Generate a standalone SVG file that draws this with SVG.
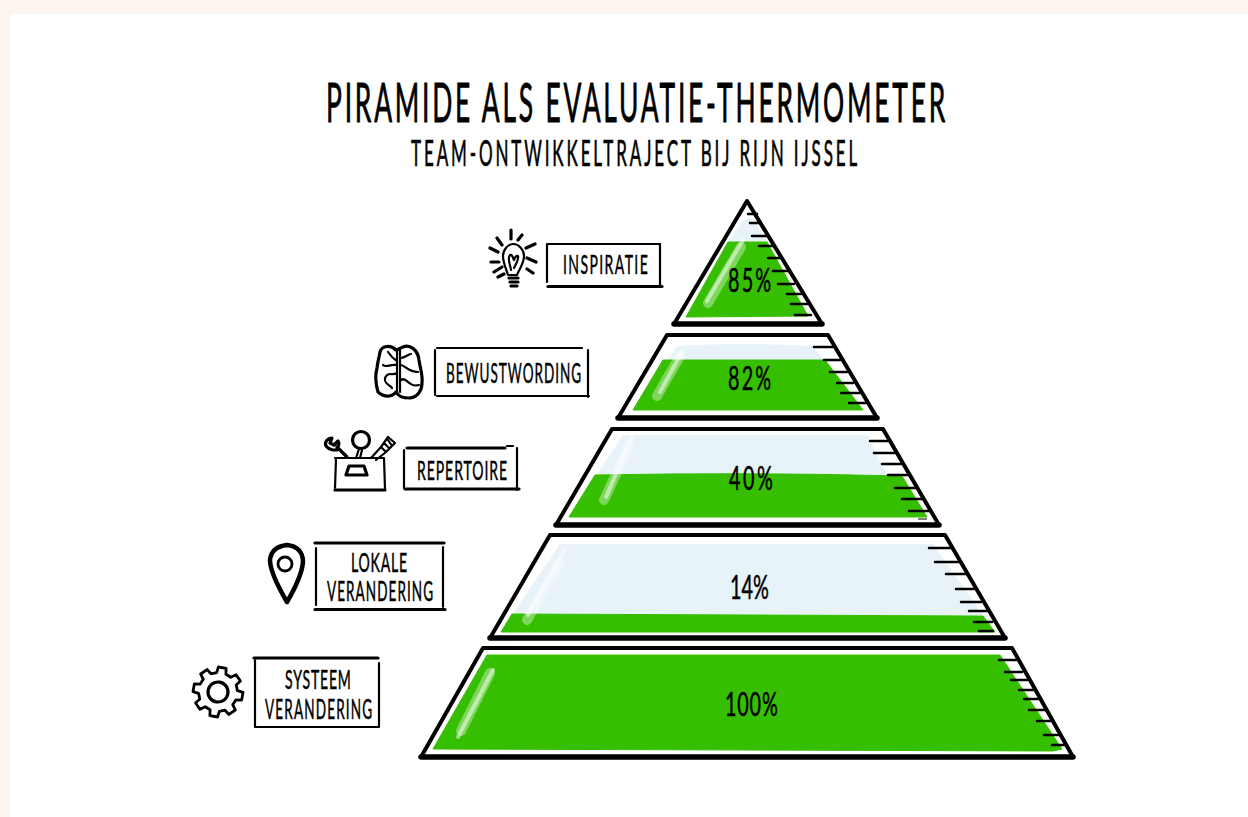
<svg xmlns="http://www.w3.org/2000/svg" width="1248" height="817" viewBox="0 0 1248 817">
<style>
text{font-family:Lato,"Liberation Sans",Arial,sans-serif;fill:#000;stroke:#000;stroke-width:.5;stroke-linejoin:round}
.t{font-size:26px}
.p{font-size:33px}
.tier{fill:#fff;stroke:#000;stroke-width:4;stroke-linejoin:round}
.base{stroke:#000;stroke-width:5.5;stroke-linecap:round;fill:none}
.g{fill:#36bf00;stroke:#36bf00;stroke-width:1;stroke-linejoin:round}
.l{fill:#e7f2f9}
.tk{stroke:#000;stroke-width:2.5;stroke-linecap:round;fill:none}
.h1{stroke:#fff;stroke-opacity:.36;stroke-width:10;stroke-linecap:round;fill:none}
.h2{stroke:#fff;stroke-opacity:.5;stroke-width:4;stroke-linecap:round;fill:none}
.b{stroke:#000;stroke-width:2.200;stroke-linecap:round;fill:none}
.bt{stroke:#000;stroke-width:3.200;stroke-linecap:round;fill:none}
.i{stroke:#000;stroke-width:2.200;stroke-linecap:round;stroke-linejoin:round;fill:none}
.ih{stroke:#000;stroke-width:3.200;stroke-linecap:round;stroke-linejoin:round;fill:none}
</style>
<rect width="1248" height="817" fill="#fcf4ef"/>
<rect x="10" y="14" width="1238" height="803" fill="#fff"/>
<g id="title">
<text transform="translate(326,122) scale(.48,1)" x="0" y="0" textLength="1290" style="font-size:55px;stroke-width:.9px">PIRAMIDE ALS EVALUATIE-THERMOMETER</text>
<text transform="translate(411,166) scale(.46,1)" x="0" y="0" textLength="970" style="font-size:37px;stroke-width:.7px">TEAM-ONTWIKKELTRAJECT BIJ RIJN IJSSEL</text>
</g>
<g id="tier-inspiratie">
<polygon class="tier" points="747,201 822,324 674,324"/>
<path class="l" d="M742,221Q750,216 755,220L766,243H728Z"/>
<path class="g" d="M728,242L767,242L808,316L686,317Z"/>
<path class="h1" d="M741,247L708,303"/>
<path class="h2" d="M743,240L707,301"/>
<path class="base" d="M674,324H822"/>
<path class="tk" d="M748,214H757M750,223H759M752,236H768M759,246H773M768,258H780M773,271H788M778,284H794M787,294H801M791,304H808M795,315H811"/>
<text class="p" transform="translate(728,292) scale(.6,1)" x="0" y="0" textLength="72">85%</text>
</g>
<g id="tier-bewustwording">
<polygon class="tier" points="667,335 828,335 877,418 618,418"/>
<path class="l" d="M668,360L677,346Q745,342 813,346L825,361Z"/>
<path class="g" d="M663,360H825L863,410L633,410Z"/>
<path class="h1" d="M680,356L657,396"/>
<path class="h2" d="M682,352L660,392"/>
<path class="base" d="M618,418H877"/>
<path class="tk" d="M814,347H833M824,360H840M830,372H847M837,383H853M841,393H860M849,403H866"/>
<text class="p" transform="translate(728,390) scale(.6,1)" x="0" y="0" textLength="72">82%</text>
</g>
<g id="tier-repertoire">
<polygon class="tier" points="612,429 883,429 939,525 556,525"/>
<path class="l" d="M596,476L623,435H868L875,452L888,476Z"/>
<path class="g" d="M595,475Q750,472 902,476L927,517L569,517Z"/>
<path class="h1" d="M630,444L604,500"/>
<path class="h2" d="M632,437L606,497"/>
<path class="base" d="M556,525H939"/>
<path class="tk" d="M870,441H888M874,453H895M882,464H901M888,475H908M895,488H915M902,499H923M909,511H929"/>
<path d="M918,519H927" stroke="#555" stroke-width="1.5"/>
<text class="p" transform="translate(729,490) scale(.6,1)" x="0" y="0" textLength="73">40%</text>
</g>
<g id="tier-lokale">
<polygon class="tier" points="550,535 945,535 1005,638 490,638"/>
<path class="l" d="M512,615L560,544H933L983,615Z"/>
<path class="g" d="M512,614L983,616L995,632L501,632Z"/>
<path class="h1" d="M560,562L527,620"/>
<path class="h2" d="M565,549L528,615"/>
<path class="base" d="M490,638H1005"/>
<path class="tk" d="M929,548H951M935,562H958M946,574H966M956,589H974M961,602H981M969,611H987M974,622H992M979,631H993"/>
<text class="p" transform="translate(730,599) scale(.6,1)" x="0" y="0" textLength="65">14%</text>
</g>
<g id="tier-systeem">
<polygon class="tier" points="483,648 1012,648 1073,757 421,757"/>
<path class="g" d="M487,655H1000L1062,749L1053,751L433,749Z"/>
<path class="h1" d="M490,673L461,731"/>
<path class="h2" d="M493,670L458,737"/>
<path class="base" d="M421,757H1073"/>
<path class="tk" d="M999,660H1016M1005,672H1022M1011,680H1027M1019,690H1033M1024,699H1038M1029,710H1045M1037,721H1051M1044,735H1059M1052,745H1066"/>
<text class="p" transform="translate(725,716) scale(.6,1)" x="0" y="0" textLength="88">100%</text>
</g>
<g id="node-inspiratie">
<path class="b" d="M547,244V282M660,244V285"/>
<path class="b" d="M548,244H660"/>
<path class="bt" d="M548,286.500H662"/>
<text class="t" transform="translate(563,274) scale(.54,1)" x="0" y="0" textLength="157">INSPIRATIE</text>
<path class="i" d="M508,275C506,268 503,263 503,256C503,250 508,244 513,244C519,244 524,250 524,256C524,263 520,268 517,275Z"/>
<path class="i" d="M511,270C510,264 507,258 510,255C512,254 513,258 514,260C515,258 516,255 518,256C519,259 516,264 514,268"/>
<path class="ih" d="M509,278H518M510,282H518M511,286H517"/>
<path class="ih" d="M511,230V239M522,235L518,240M535,244L526,248M536,262L527,258M533,273L527,269M497,238L502,245M490,248L498,252M491,262L499,262M494,272L502,267M498,277L504,274"/>
</g>
<g id="node-bewustwording">
<path class="b" d="M435,350V395M588,350V397M437,348H582M437,396H589"/>
<text class="t" transform="translate(446,383) scale(.52,1)" x="0" y="0" textLength="260">BEWUSTWORDING</text>
<path class="ih" d="M396,350C391,345 382,345 380,352C379,358 378,360 377,368C375,375 376,385 378,392C385,398 392,397 396,392C399,397 403,398 410,398C418,397 422,390 422,383C423,375 420,368 419,360C418,350 410,344 403,347C400,348 398,350 396,350Z"/>
<path class="i" d="M397,349V392M400,349V392M397,361C392,358 390,355 388,352M397,365C390,364 386,368 383,365M397,373C392,376 388,371 385,378C384,384 389,384 392,388M401,365C406,366 408,372 418,372M401,380C407,376 408,388 419,385M401,358C405,358 408,354 411,354"/>
</g>
<g id="node-repertoire">
<path class="b" d="M404,450V488M517,448V490M507,446H513"/>
<path class="bt" d="M407,448H505M405,489H519"/>
<text class="t" transform="translate(417,480) scale(.54,1)" x="0" y="0" textLength="167">REPERTOIRE</text>
<path class="i" d="M336,459L335,488M384,458L385,489M335,458H384"/>
<path class="ih" d="M335,490H385"/>
<path class="ih" d="M346,475L349,466H364L367,475Z"/>
<circle class="ih" cx="361" cy="440" r="8.500"/>
<path class="i" d="M359,449L356,458M362,450L360,458"/>
<path class="ih" d="M347,457L337,447M339,449C335,451 329,450 326,446C324,442 328,438 332,438L330,443L334,445L338,441C340,444 338,447 337,448"/>
<path class="i" d="M371,458L381,447L386,452L376,460M381,447L388,437L395,443L386,452M384,443L389,448M388,440L392,446"/>
</g>
<g id="node-lokale">
<path class="b" d="M316,548V605M443,547V607"/>
<path class="bt" d="M315,543H444M315,609.500H445"/>
<text class="t" transform="translate(351,572) scale(.54,1)" x="0" y="0" textLength="104">LOKALE</text>
<text class="t" transform="translate(327,601) scale(.52,1)" x="0" y="0" textLength="204">VERANDERING</text>
<path d="M287,602C280,590 270,572 270,560C271,550 278,546 287,545C297,546 303,552 303,562C302,574 294,590 287,602Z" fill="none" stroke="#000" stroke-width="4.500" stroke-linejoin="round"/>
<circle class="i" cx="285" cy="564" r="7" style="stroke-width:2.800"/>
</g>
<g id="node-systeem">
<path class="b" d="M255,660V727M379,663V727M255,727H379"/>
<path class="bt" d="M254,658H378"/>
<text class="t" transform="translate(285,689) scale(.54,1)" x="0" y="0" textLength="122">SYSTEEM</text>
<text class="t" transform="translate(265,719) scale(.52,1)" x="0" y="0" textLength="206">VERANDERING</text>
<g transform="translate(218,692) rotate(10)">
<path class="i" style="stroke-width:2.800" d="M24.700,3.900L18.900,4.700L16.700,10L20.200,14.700L14.700,20.200L10,16.700L4.700,18.900L3.900,24.700L-3.900,24.700L-4.700,18.900L-10,16.700L-14.700,20.200L-20.200,14.700L-16.700,10L-18.900,4.700L-24.700,3.900L-24.700,-3.900L-18.900,-4.700L-16.700,-10L-20.200,-14.700L-14.700,-20.200L-10,-16.700L-4.700,-18.900L-3.900,-24.700L3.900,-24.700L4.700,-18.900L10,-16.700L14.700,-20.200L20.200,-14.700L16.700,-10L18.900,-4.700L24.700,-3.900Z"/>
<circle class="ih" r="10"/>
</g>
</g>
</svg>
